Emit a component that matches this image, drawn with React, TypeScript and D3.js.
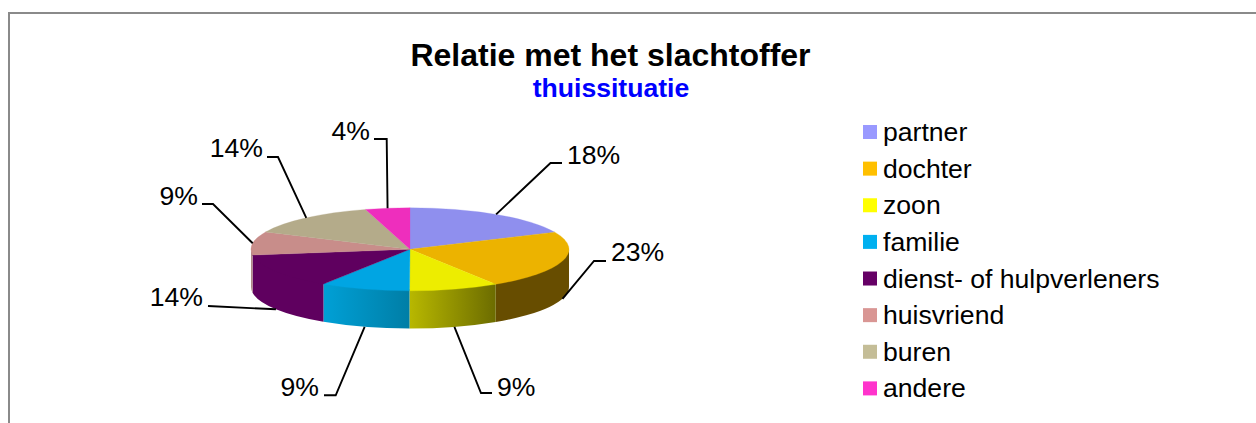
import React from "react";
import * as d3 from "d3";

// ---- data ----
const categories = ["partner", "dochter", "zoon", "familie", "dienst- of hulpverleners", "huisvriend", "buren", "andere"];
const shares = [18.2, 22.7, 9.1, 9.1, 13.6, 9.1, 13.6, 4.5];
const valueLabels = ["18%", "23%", "9%", "9%", "14%", "9%", "14%", "4%"];
const titleText = "Relatie met het slachtoffer";
const subtitleText = "thuissituatie";

// ---- styles ----
const legendColors = ["#9999ff", "#ffc000", "#ffff00", "#00b0f0", "#660066", "#d99694", "#c4bd97", "#ff33cc"];
const topColors = ["#8f8fee", "#ecb300", "#eded00", "#00a5e3", "#5f005f", "#c88d8a", "#b4ab8a", "#ee2ebd"];
const sideFrom = ["#6a6ab0", "#674d00", "#b8b800", "#00a0d6", "#5f005f", "#b08a88", "#8a8268", "#b02090"];
const sideTo = ["#6a6ab0", "#674d00", "#6c6c00", "#007ea6", "#5f005f", "#b08a88", "#8a8268", "#b02090"];

// ---- layout ----
const W = 1256, H = 423;
const FONT = "'Liberation Sans', Arial, sans-serif";
const cx = 410, cy = 249.3, rx = 159, ry = 41.5, depth = 37.7;
// leader line: elbow, end of the horizontal stub, text position
const leaders = [
  { elbow: [550.5, 163], stub: 562, tx: 567, ty: 164, anchor: "start", bottom: false },
  { elbow: [594, 261], stub: 606, tx: 611, ty: 261, anchor: "start", bottom: true },
  { elbow: [481, 393], stub: 492, tx: 497, ty: 396, anchor: "start", bottom: true },
  { elbow: [335.7, 395.3], stub: 324, tx: 319, ty: 396, anchor: "end", bottom: true },
  { elbow: [208, 306], stub: 208, tx: 203, ty: 306, anchor: "end", bottom: true },
  { elbow: [213, 204], stub: 202, tx: 198, ty: 205, anchor: "end", bottom: false },
  { elbow: [278, 157], stub: 267, tx: 263, ty: 157, anchor: "end", bottom: false },
  { elbow: [386.7, 139], stub: 374, tx: 370, ty: 140, anchor: "end", bottom: false },
];

const slices = d3.pie<number>().sort(null).value((d) => d)(shares);
const px = (a: number) => cx + rx * Math.sin(a);
const py = (a: number, dz = 0) => cy - ry * Math.cos(a) + dz;

const topPath = (a0: number, a1: number) =>
  `M${cx},${cy}L${px(a0)},${py(a0)}A${rx},${ry} 0 ${a1 - a0 > Math.PI ? 1 : 0} 1 ${px(a1)},${py(a1)}Z`;

// the upper edge of a wall is tucked 1.5px under the top face, so no seam shows between them
const sidePath = (a0: number, a1: number) =>
  `M${px(a0)},${py(a0, -1.5)}A${rx},${ry} 0 0 1 ${px(a1)},${py(a1, -1.5)}` +
  `L${px(a1)},${py(a1, depth)}A${rx},${ry} 0 0 0 ${px(a0)},${py(a0, depth)}Z`;

const legendY = d3.scalePoint<string>().domain(categories).range([132, 388.4]);

export default function App() {
  return (
    <svg width={W} height={H} viewBox={`0 0 ${W} ${H}`} style={{ position: "absolute", left: 0, top: 0, display: "block" }} fontFamily={FONT}>
      <rect width={W} height={H} fill="#fff" />
      <path d={`M9,${H}V13H${W}`} fill="none" stroke="#8a8a8a" strokeWidth={2} />

      <text x={610.5} y={66} textAnchor="middle" fontSize={32} fontWeight="bold" fill="#000">{titleText}</text>
      <text x={611} y={96.5} textAnchor="middle" fontSize={26.6} fontWeight="bold" fill="#0000ff">{subtitleText}</text>

      <defs>
        {slices.map((s, i) => {
          const a0 = Math.max(s.startAngle, Math.PI / 2);
          const a1 = Math.min(s.endAngle, (3 * Math.PI) / 2);
          return (
            <linearGradient key={i} id={`side${i}`} gradientUnits="userSpaceOnUse" x1={Math.min(px(a0), px(a1))} x2={Math.max(px(a0), px(a1))} y1={0} y2={0}>
              <stop offset="0" stopColor={sideFrom[i]} />
              <stop offset="1" stopColor={sideTo[i]} />
            </linearGradient>
          );
        })}
      </defs>

      {slices.map((s, i) => {
        const a0 = Math.max(s.startAngle, Math.PI / 2);
        const a1 = Math.min(s.endAngle, (3 * Math.PI) / 2);
        return a1 > a0 ? <path key={i} d={sidePath(a0, a1)} fill={`url(#side${i})`} /> : null;
      })}
      {slices.map((s, i) => (
        <path key={i} d={topPath(s.startAngle, s.endAngle)} fill={topColors[i]} stroke={topColors[i]} strokeWidth={0.3} />
      ))}

      {slices.map((s, i) => {
        const l = leaders[i];
        const m = (s.startAngle + s.endAngle) / 2;
        const x0 = px(m);
        const y0 = py(m, l.bottom ? depth : 0);
        return (
          <g key={i}>
            <path d={`M${x0},${y0}L${l.elbow[0]},${l.elbow[1]}L${l.stub},${l.elbow[1]}`} fill="none" stroke="#000" strokeWidth={1.9} />
            <text x={l.tx} y={l.ty} textAnchor={l.anchor as any} fontSize={26.6} fill="#000">{valueLabels[i]}</text>
          </g>
        );
      })}

      {categories.map((c, i) => {
        const y = legendY(c) as number;
        return (
          <g key={c}>
            <rect x={863} y={y - 7} width={14} height={14} fill={legendColors[i]} />
            <text x={883} y={y + 9} fontSize={26.6} fill="#000">{c}</text>
          </g>
        );
      })}
    </svg>
  );
}
